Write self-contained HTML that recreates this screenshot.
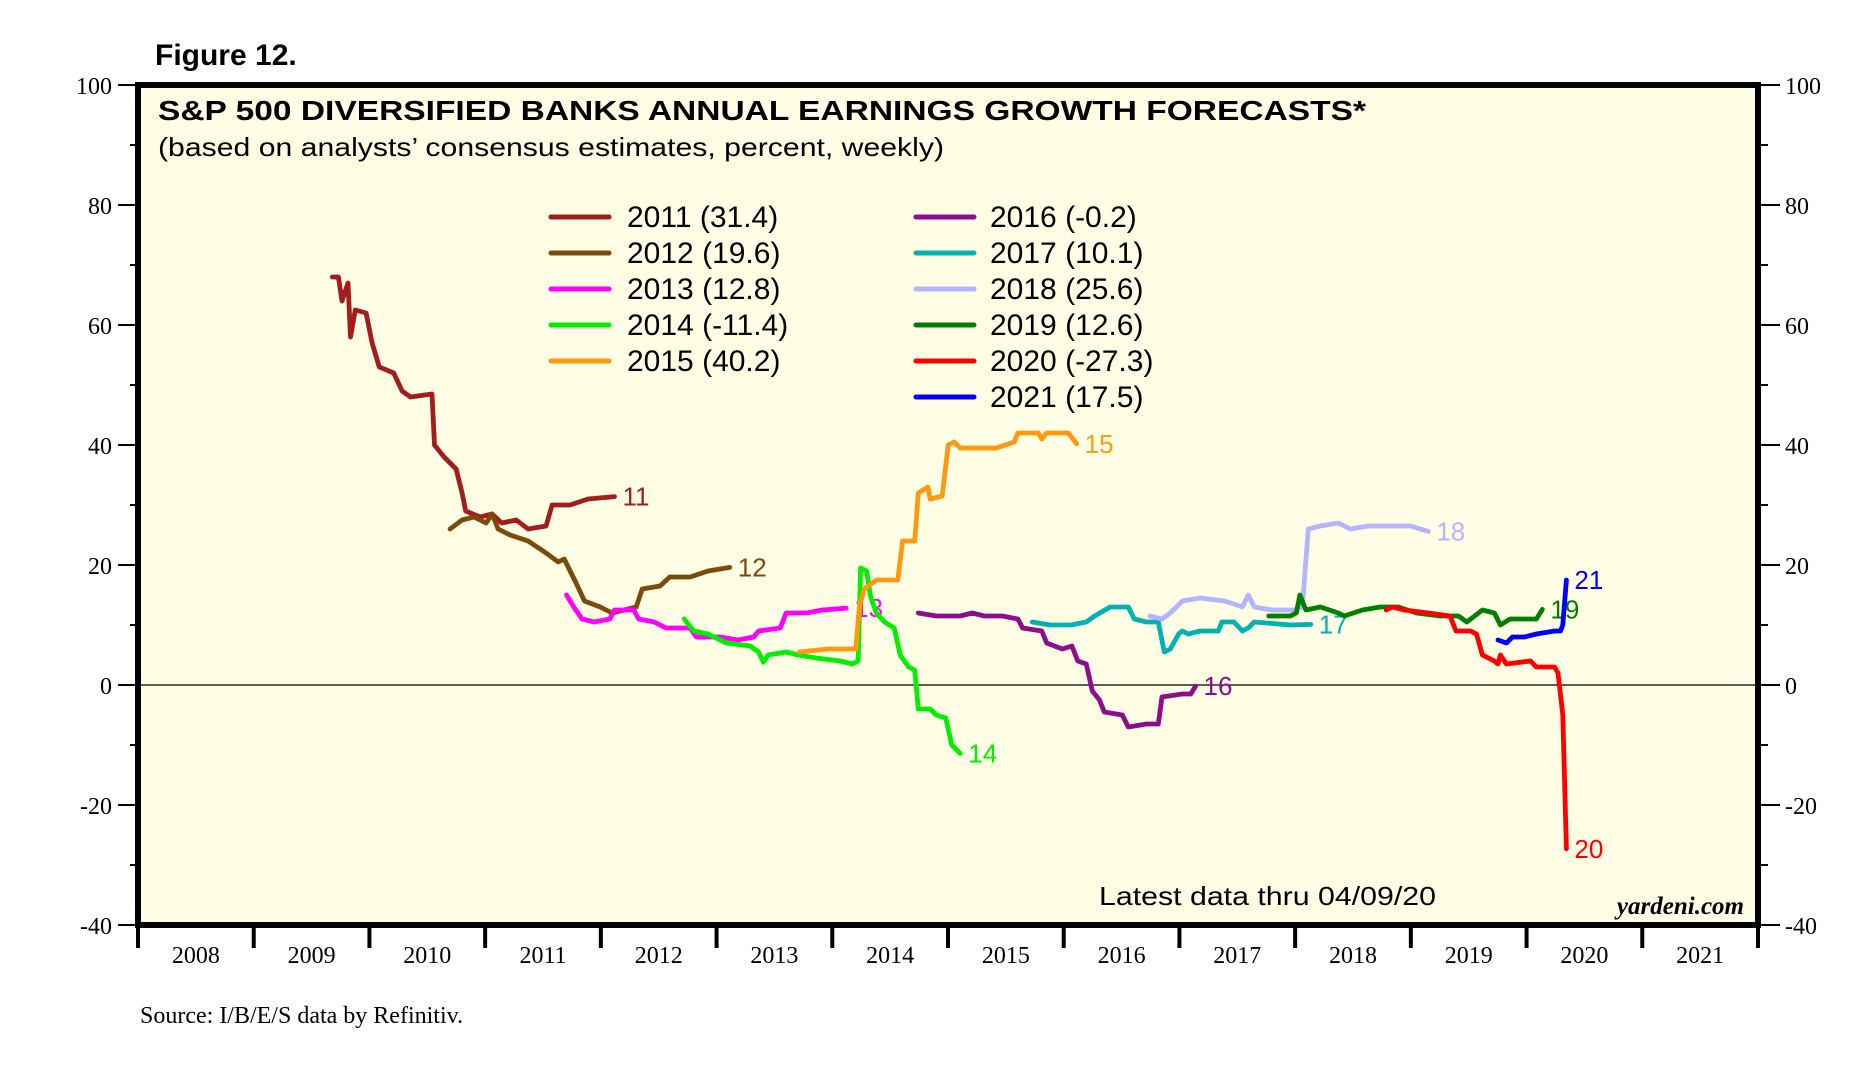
<!DOCTYPE html>
<html><head><meta charset="utf-8"><style>
html,body{margin:0;padding:0;background:#fff;width:1871px;height:1074px;overflow:hidden}
svg{display:block}
</style></head><body>
<svg id="chart" width="1871" height="1074" xmlns="http://www.w3.org/2000/svg">
<text x="155" y="65" font-family="Liberation Sans, sans-serif" font-weight="bold" font-size="30">Figure 12.</text>
<rect x="138" y="85" width="1620" height="840" fill="#FFFEE4"/>
<g id="grid"></g>
<g id="series"></g>
<rect x="138" y="85" width="1620" height="840" fill="none" stroke="#000" stroke-width="6"/>
<text x="158" y="120" font-family="Liberation Sans, sans-serif" font-weight="bold" font-size="28" textLength="1208" lengthAdjust="spacingAndGlyphs">S&amp;P 500 DIVERSIFIED BANKS ANNUAL EARNINGS GROWTH FORECASTS*</text>
<text x="158" y="156" font-family="Liberation Sans, sans-serif" font-size="26" textLength="786" lengthAdjust="spacingAndGlyphs">(based on analysts’ consensus estimates, percent, weekly)</text>
<g id="legend"></g>
<text x="1099" y="905" font-family="Liberation Sans, sans-serif" font-size="26" textLength="337" lengthAdjust="spacingAndGlyphs">Latest data thru 04/09/20</text>
<text x="1744" y="914" text-anchor="end" font-family="Liberation Serif, serif" font-style="italic" font-weight="bold" font-size="25">yardeni.com</text>
<text x="140" y="1023" font-family="Liberation Serif, serif" font-size="24">Source: I/B/E/S data by Refinitiv.</text>
</svg>
<script>
const yTicks=[100,80,60,40,20,0,-20,-40];
const yMinor=[90,70,50,30,10,-10,-30];
const years=[2008,2009,2010,2011,2012,2013,2014,2015,2016,2017,2018,2019,2020,2021];
const names=["2011","2012","2013","2014","2015","2016","2017","2018","2019","2020","2021"];
const finals=["31.4","19.6","12.8","-11.4","40.2","-0.2","10.1","25.6","12.6","-27.3","17.5"];
const colors=["#A31D1D","#7B4A0C","#FF00FF","#00F000","#FF9910","#8E0D8E","#00B2B2","#B4B4FF","#007F00","#FF0000","#0000FF"];
const d11=[2009.680,2009.732,2009.763,2009.815,2009.836,2009.878,2009.971,2010.023,2010.085,2010.210,2010.282,2010.355,2010.541,2010.562,2010.645,2010.749,2010.801,2010.832,2010.956,2011.060,2011.143,2011.268,2011.371,2011.527,2011.579,2011.734,2011.890,2012.118];
const v11=[68,68,64,67,58,62.5,62,57,53,52,49,48,48.5,40,38,36,32,29,28,28.5,27,27.5,26,26.5,30,30,31,31.4];
const d12=[2010.697,2010.801,2010.904,2011.008,2011.060,2011.112,2011.216,2011.371,2011.527,2011.631,2011.683,2011.786,2011.859,2011.994,2012.098,2012.201,2012.305,2012.357,2012.512,2012.595,2012.772,2012.927,2013.114];
const v12=[26,27.5,28,27,28.5,26,25,24,22,20.5,21,17,14,13,12,12.5,13,16,16.5,18,18,19,19.6];
const d13=[2011.703,2011.766,2011.838,2011.942,2012.077,2012.118,2012.284,2012.326,2012.461,2012.564,2012.772,2012.824,2013.031,2013.187,2013.322,2013.363,2013.550,2013.602,2013.778,2013.913,2014.120];
const v13=[15,13,11,10.5,11,12.5,12.5,11,10.5,9.5,9.5,8,8,7.5,8,9,9.5,12,12,12.5,12.8];
const d14=[2012.720,2012.803,2012.927,2013.083,2013.290,2013.363,2013.405,2013.446,2013.602,2013.705,2013.861,2014.068,2014.172,2014.224,2014.245,2014.297,2014.328,2014.380,2014.452,2014.535,2014.587,2014.660,2014.712,2014.743,2014.846,2014.898,2014.981,2015.033,2015.106];
const v14=[11,9,8.5,7,6.5,5.5,3.8,5,5.5,5,4.5,4,3.5,4,19.5,19,15,12,10.5,9.5,5,3,2.5,-4,-4,-5,-5.5,-10,-11.4];
const d15=[2013.716,2013.965,2014.172,2014.203,2014.234,2014.276,2014.380,2014.566,2014.608,2014.712,2014.743,2014.826,2014.846,2014.950,2015.002,2015.054,2015.106,2015.417,2015.573,2015.604,2015.780,2015.811,2015.853,2016.040,2016.112];
const v15=[5.5,6,6,6,13,16,17.5,17.5,24,24,32,33,31,31.5,40,40.5,39.5,39.5,40.5,42,42,41,42,42,40.2];
const d16=[2014.743,2014.898,2015.106,2015.210,2015.313,2015.469,2015.604,2015.645,2015.811,2015.853,2015.988,2016.071,2016.122,2016.195,2016.247,2016.309,2016.351,2016.506,2016.558,2016.714,2016.817,2016.849,2017.025,2017.098,2017.139];
const v16=[12,11.5,11.5,12,11.5,11.5,11,9.5,9,7,6,6.5,4,3.5,-1,-2.5,-4.5,-5,-7,-6.5,-6.5,-2,-1.5,-1.5,-0.2];
const d17=[2015.728,2015.884,2016.060,2016.195,2016.268,2016.402,2016.558,2016.610,2016.714,2016.817,2016.869,2016.921,2016.994,2017.025,2017.077,2017.180,2017.336,2017.367,2017.471,2017.544,2017.595,2017.647,2017.959,2018.135];
const v17=[10.5,10,10,10.5,11.5,13,13,11,10.5,10.5,5.5,6,8.5,9,8.5,9,9,10.5,10.5,9,9.5,10.5,10,10.1];
const d18=[2016.745,2016.849,2016.921,2017.025,2017.180,2017.388,2017.471,2017.544,2017.595,2017.647,2017.803,2017.990,2018.062,2018.114,2018.218,2018.373,2018.477,2018.633,2018.996,2019.151];
const v18=[11.5,11,12,14,14.5,14,13.5,13,15,13,12.5,12.5,13,26,26.5,27,26,26.5,26.5,25.6];
const d19=[2017.772,2017.959,2018.010,2018.041,2018.093,2018.218,2018.373,2018.425,2018.581,2018.737,2018.892,2019.048,2019.255,2019.411,2019.484,2019.618,2019.722,2019.774,2019.857,2020.085,2020.137];
const v19=[11.5,11.5,12,15,12.5,13,12,11.5,12.5,13,13,12,11.5,11.5,10.5,12.5,12,10,11,11,12.6];
const d20=[2018.788,2018.840,2018.944,2019.151,2019.338,2019.390,2019.515,2019.567,2019.618,2019.722,2019.753,2019.774,2019.826,2020.033,2020.085,2020.241,2020.272,2020.313,2020.344];
const v20=[12.5,13,12.5,12,11.5,9,9,8.5,5,4,3.5,5,3.5,4,3,3,2,-5,-27.3];
const d21=[2019.753,2019.826,2019.878,2019.981,2020.085,2020.241,2020.293,2020.313,2020.344];
const v21=[7.5,7,8,8,8.5,9,9,10,17.5];
const dates=[d11,d12,d13,d14,d15,d16,d17,d18,d19,d20,d21];
const vals=[v11,v12,v13,v14,v15,v16,v17,v18,v19,v20,v21];
const labels=["11","12","13","14","15","16","17","18","19","20","21"];

const L=138,R=1758,T=85,B=925;
function X(yr){return L+(yr-2008)*(R-L)/14;}
function Y(v){return T+(100-v)*(B-T)/140;}
const NS="http://www.w3.org/2000/svg";
function mk(tag,attrs,parent){const e=document.createElementNS(NS,tag);for(const k in attrs)e.setAttribute(k,attrs[k]);parent.appendChild(e);return e;}
const grid=document.getElementById('grid'),ser=document.getElementById('series'),leg=document.getElementById('legend');

yTicks.forEach(t=>{
  const y=Y(t);
  const a=mk('line',{x1:118,x2:L,y1:y,y2:y,stroke:'#000','stroke-width':2},grid);
  
  
  const b=mk('line',{x1:R,x2:1780,y1:y,y2:y,stroke:'#000','stroke-width':2},grid);
  
  
  const tl=mk('text',{x:112,y:y+9,'text-anchor':'end','font-family':'Liberation Serif, serif','font-size':24},grid);
  tl.textContent=t;
  
  
  const tr=mk('text',{x:1785,y:y+9,'font-family':'Liberation Serif, serif','font-size':24},grid);
  tr.textContent=t;
  
  
});
yMinor.forEach(t=>{
  const y=Y(t);
  const a=mk('line',{x1:130,x2:L,y1:y,y2:y,stroke:'#000','stroke-width':2},grid);
  
  
  const b=mk('line',{x1:R,x2:1768,y1:y,y2:y,stroke:'#000','stroke-width':2},grid);
  
  
});
const z=mk('line',{x1:L,x2:R,y1:Y(0),y2:Y(0),stroke:'#000','stroke-width':1.2},grid);


for(let i=0;i<=years.length;i++){
  const x=X(2008+i);
  const tk=mk('line',{x1:x,x2:x,y1:B,y2:948,stroke:'#000','stroke-width':4},grid);
  
  
}
years.forEach(yr=>{
  const t=mk('text',{x:X(yr+0.5),y:963,'text-anchor':'middle','font-family':'Liberation Serif, serif','font-size':24},grid);
  t.textContent=yr;
  
  
});

dates.forEach((d,i)=>{
  const pts=d.map((yr,j)=>X(yr).toFixed(1)+','+Y(vals[i][j]).toFixed(1)).join(' ');
  const p=mk('polyline',{points:pts,fill:'none',stroke:colors[i],'stroke-width':4.8,'stroke-linejoin':'round','stroke-linecap':'round'},ser);
  
  
  const ex=X(d[d.length-1]),ey=Y(vals[i][vals[i].length-1]);
  const lb=mk('text',{x:ex+8,y:ey+9,fill:colors[i],'font-family':'Liberation Sans, sans-serif','font-size':26},ser);
  lb.textContent=labels[i];
  
  
});

names.forEach((n,i)=>{
  const col=i<5?0:1, row=i<5?i:i-5;
  const lx=col?916:551, tx=col?990:627, y=217+row*36;
  const ln=mk('line',{x1:lx,x2:lx+58,y1:y,y2:y,stroke:colors[i],'stroke-width':5,'stroke-linecap':'round'},leg);
  
  
  const t=mk('text',{x:tx,y:y+10,'font-family':'Liberation Sans, sans-serif','font-size':30},leg);
  t.textContent=n+' ('+finals[i]+')';
  
  
});
</script>
</body></html>
